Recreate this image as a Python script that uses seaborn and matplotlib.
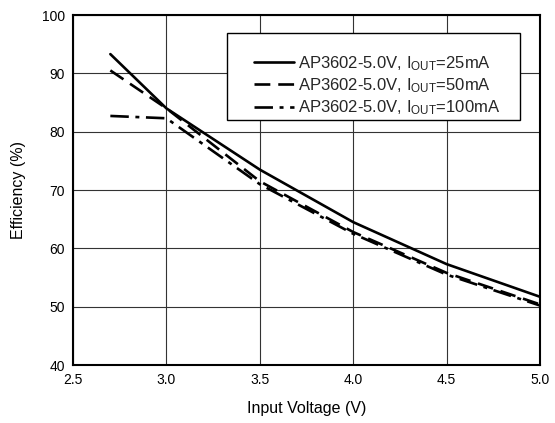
import matplotlib
matplotlib.use("Agg")
import matplotlib.pyplot as plt
from matplotlib.patches import Rectangle
import seaborn as sns
import pandas as pd

sns.set_theme(style="white")
plt.rcParams["font.family"] = ["Liberation Sans", "DejaVu Sans"]
plt.rcParams["mathtext.fontset"] = "custom"
plt.rcParams["mathtext.rm"] = "Liberation Sans"
plt.rcParams["mathtext.it"] = "Liberation Sans"

# Input voltage sweep (V)
vin = [2.7, 3.0, 3.5, 4.0, 4.5, 5.0]
# Efficiency (%) for each load current
eff_25ma = [93.3, 84.0, 73.5, 64.5, 57.3, 51.7]
eff_50ma = [90.5, 84.0, 71.5, 62.8, 55.8, 50.4]
eff_100ma = [82.7, 82.3, 71.0, 62.5, 55.5, 50.2]

labels = [
    "AP3602-5.0V, I$_{\\mathrm{OUT}}$=25mA",
    "AP3602-5.0V, I$_{\\mathrm{OUT}}$=50mA",
    "AP3602-5.0V, I$_{\\mathrm{OUT}}$=100mA",
]
series = [eff_25ma, eff_50ma, eff_100ma]
dashes = [None, (6, 3), (7, 2.5, 1.5, 2.5)]

fig = plt.figure(figsize=(5.55, 4.23), dpi=100)
ax = fig.add_axes([0.1315, 0.137, 0.8415, 0.8275])

for lab, eff, d in zip(labels, series, dashes):
    df = pd.DataFrame({"vin": vin, "eff": eff})
    sns.lineplot(data=df, x="vin", y="eff", ax=ax, color="black",
                 linewidth=1.9, label=lab)
    if d is not None:
        ax.lines[-1].set_dashes(d)

ax.set_xlim(2.5, 5.0)
ax.set_ylim(40, 100)
ax.set_xticks([2.5, 3.0, 3.5, 4.0, 4.5, 5.0])
ax.set_yticks([40, 50, 60, 70, 80, 90, 100])
ax.set_xticklabels(["2.5", "3.0", "3.5", "4.0", "4.5", "5.0"])
ax.grid(True, color="#333333", linewidth=0.8)
ax.tick_params(length=0, labelsize=10, colors="black", pad=6)
for s in ax.spines.values():
    s.set_color("black")
    s.set_linewidth(1.5)

ax.set_xlabel("Input Voltage (V)", fontsize=11.5, color="black", labelpad=10)
ax.set_ylabel("Efficiency (%)", fontsize=11.5, color="black", labelpad=11)

# Legend box with a wider left margin than the default frame allows
box = Rectangle((0.330, 0.700), 0.627, 0.249, transform=ax.transAxes,
                facecolor="white", edgecolor="black", linewidth=1.0, zorder=4)
ax.add_patch(box)
leg = ax.legend(loc="upper right", bbox_to_anchor=(0.914, 0.889), fontsize=12,
                frameon=False, handlelength=2.4, handletextpad=0.2,
                borderpad=0, labelspacing=0.22, borderaxespad=0)
leg.set_zorder(5)

fig.savefig("out.png", dpi=100)
